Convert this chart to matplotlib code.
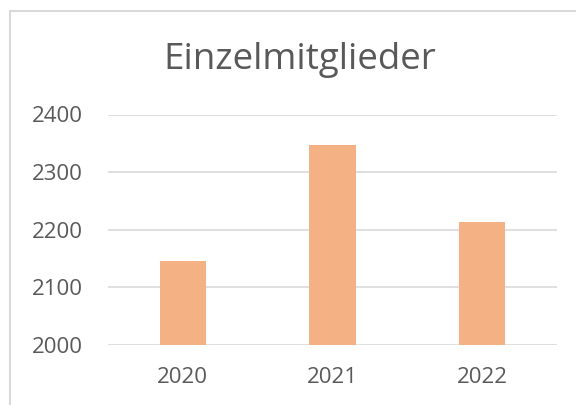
import matplotlib.pyplot as plt
from matplotlib.patches import Rectangle

years = ["2020", "2021", "2022"]
members = [2146, 2347, 2214]
y_ticks = [2000, 2100, 2200, 2300, 2400]

plt.rcParams['font.family'] = ['Open Sans', 'DejaVu Sans']

fig = plt.figure(figsize=(5.76, 4.05), dpi=100)
ax = fig.add_axes([108 / 576, 1 - 345 / 405, (557 - 108) / 576, (345 - 114.5) / 405])

# chart border (cropped on right/bottom)
fig.patches.append(Rectangle((10 / 576, -0.1), 1.2, 1 - 11 / 405 + 0.1,
                             transform=fig.transFigure, fill=False,
                             edgecolor='#D9D9D9', linewidth=1.5))

x = range(len(years))
ax.bar(x, [m - 2000 for m in members], bottom=2000, width=0.31,
       color='#F4B183', zorder=3)

ax.set_xlim(-0.5, 2.5)
ax.set_ylim(2000, 2400)
ax.set_yticks(y_ticks)
ax.set_xticks(list(x))
ax.set_xticklabels(years)
ax.grid(axis='y', color='#D9D9D9', linewidth=1.2, zorder=0)
for s in ax.spines.values():
    s.set_visible(False)
ax.tick_params(length=0, labelsize=16, colors='#595959')
ax.tick_params(axis='y', pad=18)
ax.tick_params(axis='x', pad=16)

fig.text(300 / 576, 1 - 69 / 405, "Einzelmitglieder", ha='center', va='baseline',
         fontsize=26.5, color='#595959')

fig.savefig("out.png", dpi=100)
